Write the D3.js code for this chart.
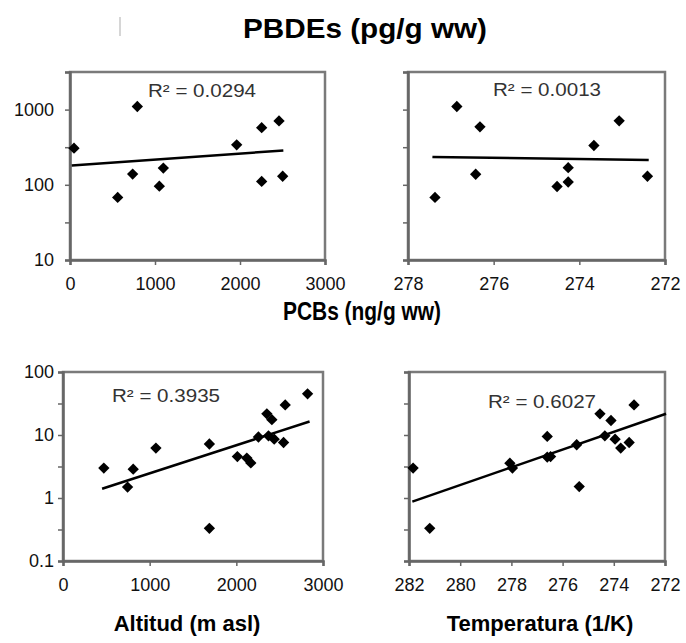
<html>
<head>
    <script src="https://d3js.org/d3.v7.min.js" charset="utf-8"></script>
    <style>
        body { margin: 0; background: #fff; }
    </style>
</head>
<body>
    <script type="text/javascript">
        var width = 686;
        var height = 643;

        // PBDEs (pg/g ww) vs altitude and temperature
        const pbdeAlt = [47, 561, 737, 792, 1051, 1098, 1961, 2255, 2255, 2459, 2502];
        const pbdeAltVal = [307, 68, 139, 1100, 96, 167, 340, 111, 575, 708, 130];
        const pbdeTemp = [277.37, 276.86, 276.42, 276.32, 274.52, 274.26, 274.26, 273.66, 273.07, 272.41];
        const pbdeTempVal = [68, 1100, 138, 590, 95, 169, 109, 333, 710, 130];

        // PCBs (ng/g ww) vs altitude and temperature
        const pcbAlt = [471, 745, 810, 1072, 1689, 1689, 2012, 2121, 2167, 2255, 2352, 2410, 2371, 2437, 2545, 2564, 2822];
        const pcbAltVal = [2.98, 1.49, 2.87, 6.2, 7.2, 0.33, 4.55, 4.3, 3.6, 9.3, 21.7, 17.5, 9.7, 8.6, 7.6, 30, 45];
        const pcbTemp = [281.84, 281.19, 278.06, 277.96, 276.6, 276.6, 276.47, 275.45, 275.35, 274.54, 274.11, 274.35, 273.95, 273.73, 273.4, 273.21];
        const pcbTempVal = [2.98, 0.33, 3.57, 2.98, 9.5, 4.46, 4.55, 7.0, 1.52, 21.7, 17, 9.7, 8.6, 6.2, 7.6, 30];

        // trend line end points [x, y]
        const pbdeAltTrend = [[20, 180], [2510, 286]];
        const pbdeTempTrend = [[277.43, 235], [272.38, 213]];
        const pcbAltTrend = [[451, 1.40], [2845, 16.4]];
        const pcbTempTrend = [[281.87, 0.877], [271.96, 21.7]];

        const r2Labels = ["R\u00b2 = 0.0294", "R\u00b2 = 0.0013", "R\u00b2 = 0.3935", "R\u00b2 = 0.6027"];

        // axis ticks
        const altTicks = [0, 1000, 2000, 3000];
        const tempTicksTop = [278, 276, 274, 272];
        const tempTicksBottom = [282, 280, 278, 276, 274, 272];
        const pbdeYTicks = [10, 100, 1000];
        const pcbYTicks = [0.1, 1, 10, 100];

        const titles = ["PBDEs (pg/g ww)", "PCBs (ng/g ww)"];
        const xTitles = ["Altitud (m asl)", "Temperatura (1/K)"];

        const svg = d3.select("body").append("svg")
            .attr("width", width)
            .attr("height", height)
            .style("font-family", "'Liberation Sans', Arial, sans-serif");

        // small scan artefact near top-left
        svg.append("line")
            .attr("x1", 120).attr("x2", 120).attr("y1", 17).attr("y2", 36)
            .attr("stroke", "#c8c8c8").attr("stroke-width", 1.5);

        function halfDecades(ticks) {
            var out = [];
            ticks.forEach(t => { out.push(t); out.push(t * Math.sqrt(10)); });
            return out;
        }

        const panels = [
            { xs: pbdeAlt, ys: pbdeAltVal, trend: pbdeAltTrend, r2: r2Labels[0],
              xDomain: [0, 3000], xRange: [70, 325], xTicks: altTicks,
              yDomain: [10, 10 * Math.pow(10, 2.5)], yRange: [260, 72], yTicks: pbdeYTicks,
              showY: true, yPad: 11, r2x: 202, r2y: 97 },
            { xs: pbdeTemp, ys: pbdeTempVal, trend: pbdeTempTrend, r2: r2Labels[1],
              xDomain: [278, 272], xRange: [408, 665], xTicks: tempTicksTop,
              yDomain: [10, 10 * Math.pow(10, 2.5)], yRange: [260, 72], yTicks: pbdeYTicks,
              showY: false, yPad: 11, r2x: 547, r2y: 96 },
            { xs: pcbAlt, ys: pcbAltVal, trend: pcbAltTrend, r2: r2Labels[2],
              xDomain: [0, 3000], xRange: [63, 323], xTicks: altTicks,
              yDomain: [0.1, 100], yRange: [561, 372], yTicks: pcbYTicks,
              showY: true, yPad: 4, r2x: 166, r2y: 402 },
            { xs: pcbTemp, ys: pcbTempVal, trend: pcbTempTrend, r2: r2Labels[3],
              xDomain: [282, 272], xRange: [409, 665], xTicks: tempTicksBottom,
              yDomain: [0.1, 100], yRange: [561, 372], yTicks: pcbYTicks,
              showY: false, yPad: 4, r2x: 542, r2y: 408 }
        ];

        panels.forEach(p => {
            const x = d3.scaleLinear().domain(p.xDomain).range(p.xRange);
            const y = d3.scaleLog().domain(p.yDomain).range(p.yRange);
            const g = svg.append("g");

            // plot frame
            g.append("rect")
                .attr("x", p.xRange[0]).attr("y", p.yRange[1])
                .attr("width", p.xRange[1] - p.xRange[0])
                .attr("height", p.yRange[0] - p.yRange[1])
                .attr("fill", "none")
                .attr("stroke", "#7a7a7a")
                .attr("stroke-width", 2.5);

            // y axis with half-decade ticks
            const labelled = new Set(p.yTicks);
            g.append("g")
                .attr("transform", `translate(${p.xRange[0]},0)`)
                .call(d3.axisLeft(y)
                    .tickValues(halfDecades(p.yTicks).filter(v => v <= p.yDomain[1] * 1.0001))
                    .tickSize(5)
                    .tickPadding(p.yPad)
                    .tickFormat(v => (p.showY && labelled.has(v)) ? String(v) : ""))
                .call(a => a.select(".domain").attr("stroke", "#666").attr("stroke-width", 2.5))
                .call(a => a.selectAll(".tick line").attr("stroke", "#666").attr("stroke-width", 1.5))
                .call(a => a.selectAll("text").attr("font-size", 18).attr("fill", "#111")
                    .style("font-family", "'Liberation Sans', Arial, sans-serif"));

            // x axis
            g.append("g")
                .attr("transform", `translate(0,${p.yRange[0]})`)
                .call(d3.axisBottom(x).tickValues(p.xTicks).tickSize(5).tickPadding(12)
                    .tickFormat(d3.format("d")))
                .call(a => a.select(".domain").attr("stroke", "#666").attr("stroke-width", 2.5))
                .call(a => a.selectAll(".tick line").attr("stroke", "#666").attr("stroke-width", 1.5))
                .call(a => a.selectAll("text").attr("font-size", 18).attr("fill", "#111")
                    .style("font-family", "'Liberation Sans', Arial, sans-serif"));

            // trend line
            g.append("path")
                .datum(p.trend)
                .attr("fill", "none")
                .attr("stroke", "#000")
                .attr("stroke-width", 2.5)
                .attr("d", d3.line().x(d => x(d[0])).y(d => y(d[1])));

            // diamond markers
            g.selectAll(".pt")
                .data(p.xs.map((v, i) => [v, p.ys[i]]))
                .join("path")
                    .attr("class", "pt")
                    .attr("transform", d => `translate(${x(d[0])},${y(d[1])}) rotate(45)`)
                    .attr("d", d3.symbol(d3.symbolSquare, 64))
                    .attr("fill", "#000");

            g.append("text")
                .attr("x", p.r2x)
                .attr("y", p.r2y)
                .attr("text-anchor", "middle")
                .attr("font-size", 18)
                .attr("textLength", 108)
                .attr("lengthAdjust", "spacingAndGlyphs")
                .attr("fill", "#333")
                .text(p.r2);
        });

        // titles
        svg.append("text")
            .attr("x", 365).attr("y", 38)
            .attr("text-anchor", "middle")
            .attr("font-size", 28).attr("font-weight", "bold")
            .attr("textLength", 244).attr("lengthAdjust", "spacingAndGlyphs")
            .text(titles[0]);

        svg.append("text")
            .attr("x", 362).attr("y", 320)
            .attr("text-anchor", "middle")
            .attr("font-size", 25).attr("font-weight", "bold")
            .attr("textLength", 158).attr("lengthAdjust", "spacingAndGlyphs")
            .text(titles[1]);

        svg.append("text")
            .attr("x", 187).attr("y", 631)
            .attr("text-anchor", "middle")
            .attr("font-size", 22).attr("font-weight", "bold")
            .text(xTitles[0]);

        svg.append("text")
            .attr("x", 540).attr("y", 631)
            .attr("text-anchor", "middle")
            .attr("font-size", 22).attr("font-weight", "bold")
            .text(xTitles[1]);
    </script>
</body>
</html>
